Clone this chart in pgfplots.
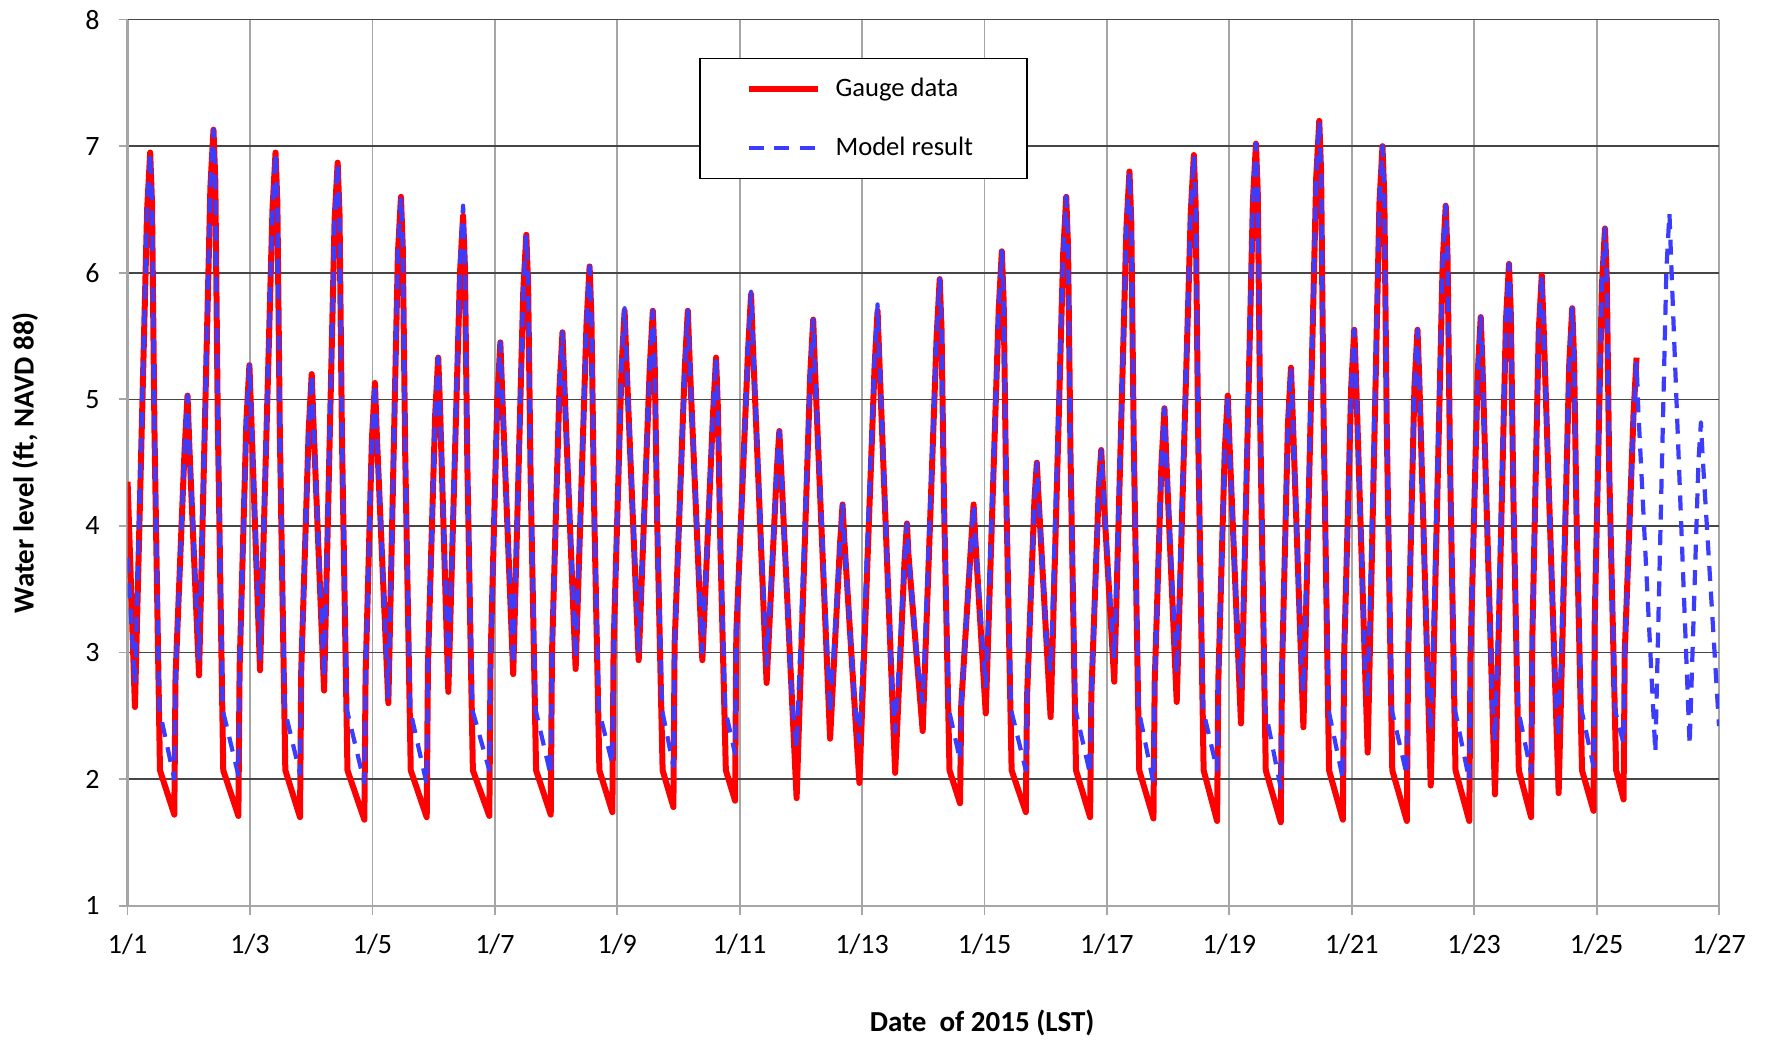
\documentclass[border=0pt]{standalone}
\usepackage{pgfplots}
\pgfplotsset{compat=1.18}
\usepackage{fontspec}
\setmainfont{Carlito}
\definecolor{gred}{RGB}{255,0,0}
\definecolor{mblue}{RGB}{60,60,255}
\definecolor{vgrid}{RGB}{166,166,166}
\definecolor{hgrid}{RGB}{70,70,70}
\begin{document}
\begin{tikzpicture}
\begin{axis}[
 scale only axis, width=795.7pt, height=443.1pt,
 xmin=0, xmax=26, ymin=1, ymax=8,
 xtick={0,2,...,26},
 xticklabels={1/1,1/3,1/5,1/7,1/9,1/11,1/13,1/15,1/17,1/19,1/21,1/23,1/25,1/27},
 ytick={1,...,8},
 grid=major,
 x grid style={vgrid, line width=0.9pt},
 y grid style={hgrid, line width=0.8pt},
 axis lines*=left,
 axis line style={vgrid, line width=1.1pt, -},
 tick style={vgrid, line width=0.9pt},
 tick align=outside, major tick length=4.5pt,
 ticklabel style={font=\fontsize{14}{16}\selectfont},
 /pgf/number format/assume math mode=true,
 xticklabel style={yshift=-6pt},
 yticklabel style={xshift=-6pt},
 xlabel={Date\ \ of 2015 (LST)},
 ylabel={Water level (ft, NAVD 88)},
 label style={font=\fontsize{14.5}{17}\selectfont\bfseries},
 xlabel style={at={(axis description cs:0.537,-0.132)}, anchor=center},
 ylabel style={at={(axis description cs:-0.0645,0.5)}, anchor=center},
 legend style={at={(axis description cs:0.359,0.957)}, anchor=north west,
   draw=black, line width=0.8pt, fill=white,
   font=\fontsize{13.3}{16}\selectfont,
   inner xsep=23pt, inner ysep=6pt, row sep=10.6pt,
   nodes={inner sep=4pt}, cells={anchor=west},
   /tikz/every odd column/.append style={column sep=3.4pt}},
 legend image code/.code={\draw[#1] (0pt,0pt) -- (34.5pt,0pt);},
 legend cell align=left,
]
\addplot[gred, line width=3pt, line join=round] coordinates {
(0,4.35) (0.12,2.57) (0.319,6.50) (0.369,6.95) (0.399,6.55) (0.439,4.75) (0.529,2.07) (0.763,1.72) (0.783,2.81)
(0.929,4.58) (0.979,5.03) (1.009,4.63) (1.167,2.82)
(1.353,6.68) (1.403,7.13) (1.433,6.73) (1.473,4.85) (1.563,2.07) (1.81,1.71) (1.83,2.88)
(1.94,4.82) (1.99,5.27) (2.02,4.87) (2.164,2.86)
(2.367,6.50) (2.417,6.95) (2.447,6.55) (2.487,4.75) (2.577,2.07) (2.817,1.70) (2.837,2.86)
(2.958,4.75) (3.008,5.20) (3.038,4.80) (3.21,2.70)
(3.382,6.42) (3.432,6.87) (3.462,6.47) (3.502,4.71) (3.592,2.07) (3.868,1.68) (3.888,2.82)
(3.991,4.68) (4.041,5.13) (4.071,4.73) (4.26,2.60)
(4.416,6.15) (4.466,6.60) (4.496,6.20) (4.536,4.56) (4.626,2.07) (4.887,1.70) (4.907,2.90)
(5.025,4.88) (5.075,5.33) (5.105,4.93) (5.24,2.69)
(5.431,6.00) (5.481,6.45) (5.511,6.05) (5.551,4.48) (5.641,2.07) (5.91,1.71) (5.93,2.94)
(6.04,5.00) (6.09,5.45) (6.12,5.05) (6.30,2.83)
(6.464,5.85) (6.514,6.30) (6.544,5.90) (6.584,4.40) (6.674,2.07) (6.913,1.72) (6.933,2.98)
(7.055,5.08) (7.105,5.53) (7.135,5.13) (7.32,2.87)
(7.498,5.60) (7.548,6.05) (7.578,5.65) (7.618,4.26) (7.708,2.07) (7.92,1.74) (7.94,3.05)
(8.07,5.25) (8.12,5.70) (8.15,5.30) (8.35,2.94)
(8.531,5.25) (8.581,5.70) (8.611,5.30) (8.651,4.07) (8.741,2.07) (8.917,1.78) (8.937,3.07)
(9.103,5.25) (9.153,5.70) (9.183,5.30) (9.39,2.94)
(9.564,4.88) (9.614,5.33) (9.644,4.93) (9.684,3.86) (9.774,2.07) (9.925,1.83) (9.945,3.15)
(10.136,5.38) (10.186,5.83) (10.216,5.43) (10.44,2.76)
(10.608,4.45) (10.648,4.75) (10.673,4.50) (10.93,1.85)
(11.151,5.18) (11.201,5.63) (11.231,5.23) (11.477,2.32)
(11.641,3.87) (11.681,4.17) (11.706,3.92) (11.956,1.97)
(12.203,5.25) (12.253,5.70) (12.283,5.30) (12.54,2.05)
(12.693,3.72) (12.733,4.02) (12.758,3.77) (12.99,2.38)
(13.218,5.50) (13.268,5.95) (13.298,5.55) (13.338,4.20) (13.428,2.07) (13.60,1.81) (13.62,2.59)
(13.782,3.87) (13.822,4.17) (13.847,3.92) (14.02,2.52)
(14.233,5.72) (14.283,6.17) (14.313,5.77) (14.353,4.32) (14.443,2.07) (14.675,1.74) (14.695,2.65)
(14.815,4.20) (14.855,4.50) (14.88,4.25) (15.08,2.49)
(15.285,6.15) (15.335,6.60) (15.365,6.20) (15.405,4.56) (15.495,2.07) (15.725,1.70) (15.745,2.66)
(15.867,4.30) (15.907,4.60) (15.932,4.35) (16.12,2.77)
(16.318,6.35) (16.368,6.80) (16.398,6.40) (16.438,4.67) (16.528,2.07) (16.76,1.69) (16.78,2.76)
(16.89,4.48) (16.94,4.93) (16.97,4.53) (17.14,2.61)
(17.37,6.48) (17.42,6.93) (17.45,6.53) (17.49,4.74) (17.58,2.07) (17.80,1.67) (17.82,2.78)
(17.924,4.58) (17.974,5.03) (18.004,4.63) (18.19,2.44)
(18.385,6.57) (18.435,7.02) (18.465,6.62) (18.505,4.79) (18.595,2.07) (18.84,1.66) (18.86,2.84)
(18.957,4.80) (19.007,5.25) (19.037,4.85) (19.21,2.41)
(19.419,6.75) (19.469,7.20) (19.499,6.80) (19.539,4.89) (19.629,2.07) (19.855,1.68) (19.875,2.96)
(19.991,5.10) (20.041,5.55) (20.071,5.15) (20.26,2.21)
(20.452,6.55) (20.502,7.00) (20.532,6.60) (20.572,4.78) (20.662,2.07) (20.90,1.67) (20.92,2.95)
(21.024,5.10) (21.074,5.55) (21.104,5.15) (21.29,1.95)
(21.485,6.08) (21.535,6.53) (21.565,6.13) (21.605,4.52) (21.695,2.07) (21.92,1.67) (21.94,2.98)
(22.057,5.20) (22.107,5.65) (22.137,5.25) (22.34,1.88)
(22.519,5.62) (22.569,6.07) (22.599,5.67) (22.639,4.27) (22.729,2.07) (22.93,1.70) (22.95,3.11)
(23.054,5.53) (23.104,5.98) (23.134,5.58) (23.38,1.89)
(23.552,5.27) (23.602,5.72) (23.632,5.32) (23.672,4.08) (23.762,2.07) (23.95,1.75) (23.97,3.27)
(24.087,5.90) (24.137,6.35) (24.167,5.95) (24.207,4.42) (24.32,2.07) (24.44,1.84) (24.46,3.00)
(24.603,4.88) (24.653,5.33)
};
\addlegendentry{Gauge data}
\addplot[mblue, line width=2.1pt, dash pattern=on 7.5pt off 5.3pt, line join=round] coordinates {
(0,3.75) (0.12,2.75) (0.319,6.50) (0.369,6.95) (0.399,6.55) (0.439,4.75) (0.519,2.55) (0.763,2.00) (0.783,2.81)
(0.929,4.58) (0.979,5.03) (1.009,4.63) (1.167,2.95)
(1.353,6.68) (1.403,7.13) (1.433,6.73) (1.473,4.85) (1.553,2.55) (1.81,2.03) (1.83,2.88)
(1.94,4.82) (1.99,5.27) (2.02,4.87) (2.164,2.95)
(2.367,6.50) (2.417,6.95) (2.447,6.55) (2.487,4.75) (2.567,2.55) (2.817,2.04) (2.837,2.86)
(2.958,4.75) (3.008,5.20) (3.038,4.80) (3.21,2.80)
(3.382,6.42) (3.432,6.87) (3.462,6.47) (3.502,4.71) (3.582,2.55) (3.868,1.97) (3.888,2.82)
(3.991,4.68) (4.041,5.13) (4.071,4.73) (4.26,2.65)
(4.416,6.15) (4.466,6.60) (4.496,6.20) (4.536,4.56) (4.616,2.55) (4.887,1.96) (4.907,2.90)
(5.025,4.88) (5.075,5.33) (5.105,4.93) (5.24,2.80)
(5.431,6.08) (5.481,6.53) (5.511,6.13) (5.551,4.52) (5.631,2.55) (5.91,2.07) (5.93,2.94)
(6.04,5.00) (6.09,5.45) (6.12,5.05) (6.30,2.90)
(6.464,5.85) (6.514,6.30) (6.544,5.90) (6.584,4.40) (6.664,2.55) (6.913,2.03) (6.933,2.98)
(7.055,5.08) (7.105,5.53) (7.135,5.13) (7.32,2.95)
(7.498,5.60) (7.548,6.05) (7.578,5.65) (7.618,4.26) (7.698,2.55) (7.92,2.12) (7.94,3.05)
(8.07,5.27) (8.12,5.72) (8.15,5.32) (8.35,3.00)
(8.531,5.25) (8.581,5.70) (8.611,5.30) (8.651,4.07) (8.731,2.55) (8.917,2.10) (8.937,3.07)
(9.103,5.25) (9.153,5.70) (9.183,5.30) (9.39,3.00)
(9.564,4.88) (9.614,5.33) (9.644,4.93) (9.684,3.86) (9.764,2.55) (9.925,2.20) (9.945,3.15)
(10.136,5.40) (10.186,5.85) (10.216,5.45) (10.44,2.90)
(10.608,4.45) (10.648,4.75) (10.673,4.50) (10.857,2.60) (10.93,2.24)
(11.151,5.18) (11.201,5.63) (11.231,5.23) (11.477,2.52)
(11.641,3.87) (11.681,4.17) (11.706,3.92) (11.877,2.60) (11.956,2.29)
(12.203,5.30) (12.253,5.75) (12.283,5.35) (12.489,2.70) (12.54,2.37)
(12.693,3.72) (12.733,4.02) (12.758,3.77) (12.909,2.90) (12.99,2.60)
(13.218,5.50) (13.268,5.95) (13.298,5.55) (13.338,4.20) (13.418,2.55) (13.60,2.15) (13.62,2.59)
(13.782,3.87) (13.822,4.17) (13.847,3.92) (14.02,2.73)
(14.233,5.72) (14.283,6.17) (14.313,5.77) (14.353,4.32) (14.433,2.55) (14.675,2.07) (14.695,2.65)
(14.815,4.20) (14.855,4.50) (14.88,4.25) (15.012,3.10) (15.08,2.85)
(15.285,6.15) (15.335,6.60) (15.365,6.20) (15.405,4.56) (15.485,2.55) (15.725,2.04) (15.745,2.66)
(15.867,4.30) (15.907,4.60) (15.932,4.35) (16.12,2.95)
(16.318,6.35) (16.368,6.80) (16.398,6.40) (16.438,4.67) (16.518,2.55) (16.76,1.97) (16.78,2.76)
(16.89,4.48) (16.94,4.93) (16.97,4.53) (17.14,2.83)
(17.37,6.48) (17.42,6.93) (17.45,6.53) (17.49,4.74) (17.57,2.55) (17.80,2.07) (17.82,2.78)
(17.924,4.58) (17.974,5.03) (18.004,4.63) (18.147,2.95) (18.19,2.73)
(18.385,6.57) (18.435,7.02) (18.465,6.62) (18.505,4.79) (18.585,2.55) (18.84,1.93) (18.86,2.84)
(18.957,4.80) (19.007,5.25) (19.037,4.85) (19.175,2.90) (19.21,2.69)
(19.419,6.75) (19.469,7.20) (19.499,6.80) (19.539,4.89) (19.619,2.55) (19.855,2.00) (19.875,2.96)
(19.991,5.10) (20.041,5.55) (20.071,5.15) (20.215,2.90) (20.26,2.65)
(20.452,6.55) (20.502,7.00) (20.532,6.60) (20.572,4.78) (20.652,2.55) (20.90,2.03) (20.92,2.95)
(21.024,5.10) (21.074,5.55) (21.104,5.15) (21.245,2.70) (21.29,2.38)
(21.485,6.08) (21.535,6.53) (21.565,6.13) (21.605,4.52) (21.685,2.55) (21.92,1.99) (21.94,2.98)
(22.057,5.20) (22.107,5.65) (22.137,5.25) (22.292,2.65) (22.34,2.30)
(22.519,5.62) (22.569,6.07) (22.599,5.67) (22.639,4.27) (22.719,2.55) (22.93,2.05) (22.95,3.11)
(23.054,5.53) (23.104,5.98) (23.134,5.58) (23.329,2.65) (23.38,2.33)
(23.552,5.27) (23.602,5.72) (23.632,5.32) (23.672,4.08) (23.752,2.55) (23.95,2.10) (23.97,3.27)
(24.087,5.90) (24.137,6.35) (24.167,5.95) (24.207,4.42) (24.30,2.55) (24.44,2.28) (24.46,3.00)
(24.603,4.85) (24.653,5.30) (24.683,4.90) (24.96,2.21)
(25.14,6.02) (25.19,6.47) (25.22,6.07) (25.52,2.27)
(25.665,4.52) (25.705,4.82) (25.73,4.57) (26.0,2.42)
};
\addlegendentry{Model result}
\end{axis}
\pgfresetboundingbox
\path[use as bounding box] (-63.8pt,-68.1pt) rectangle (821.7pt,452.9pt);
\end{tikzpicture}
\end{document}
